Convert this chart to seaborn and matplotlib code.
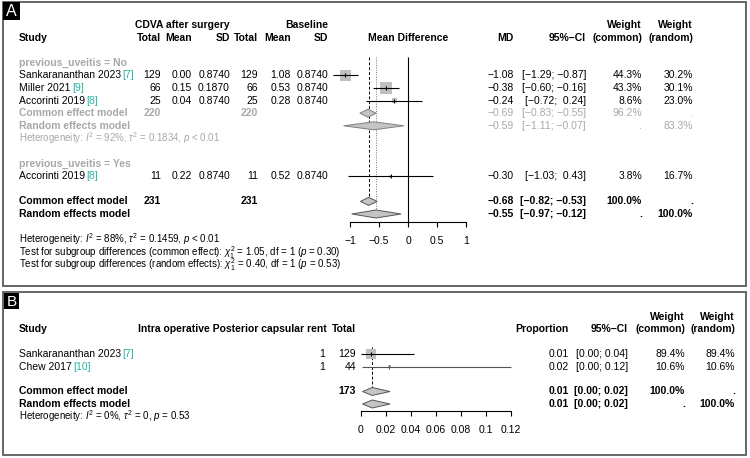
import matplotlib
matplotlib.use("Agg")
import numpy as np
import matplotlib.pyplot as plt
from matplotlib.patches import Rectangle
import seaborn as sns

# ------------------------------------------------------------------
#  Data
# ------------------------------------------------------------------
# Panel A - CDVA after surgery vs baseline, by previous uveitis
a_studies    = ["Sankarananthan 2023", "Miller 2021", "Accorinti 2019", "Accorinti 2019"]
a_refs       = ["[7]", "[9]", "[8]", "[8]"]
a_group      = ["No", "No", "No", "Yes"]
a_n_post     = [129, 66, 25, 11]
a_mean_post  = [0.00, 0.15, 0.04, 0.22]
a_sd_post    = [0.8740, 0.1870, 0.8740, 0.8740]
a_n_base     = [129, 66, 25, 11]
a_mean_base  = [1.08, 0.53, 0.28, 0.52]
a_sd_base    = [0.8740, 0.8740, 0.8740, 0.8740]
a_md         = [-1.08, -0.38, -0.24, -0.30]
a_lo         = [-1.29, -0.60, -0.72, -1.03]
a_hi         = [-0.87, -0.16, 0.24, 0.43]
a_w_common   = [44.3, 43.3, 8.6, 3.8]
a_w_random   = [30.2, 30.1, 23.0, 16.7]

# subgroup "No" pooled estimates (common, random)
a_sub_total  = 220
a_sub_est    = [-0.69, -0.59]
a_sub_lo     = [-0.83, -1.11]
a_sub_hi     = [-0.55, -0.07]
a_sub_wc     = [96.2, None]
a_sub_wr     = [None, 83.3]

# overall pooled estimates (common, random)
a_all_total  = 231
a_all_est    = [-0.68, -0.55]
a_all_lo     = [-0.82, -0.97]
a_all_hi     = [-0.53, -0.12]
a_all_wc     = [100.0, None]
a_all_wr     = [None, 100.0]

a_ticks      = [-1, -0.5, 0, 0.5, 1]
a_tick_lbls  = ["\u22121", "\u22120.5", "0", "0.5", "1"]

# Panel B - intra operative posterior capsular rent
b_studies    = ["Sankarananthan 2023", "Chew 2017"]
b_refs       = ["[7]", "[10]"]
b_events     = [1, 1]
b_total      = [129, 44]
b_prop       = [0.0078, 0.0227]
b_lo         = [0.0002, 0.0006]
b_hi         = [0.0424, 0.1202]
b_w_common   = [89.4, 10.6]
b_w_random   = [89.4, 10.6]

b_all_total  = 173
b_all_est    = [0.009, 0.009]
b_all_lo     = [0.0012, 0.0012]
b_all_hi     = [0.0232, 0.0232]
b_all_wc     = [100.0, None]
b_all_wr     = [None, 100.0]

b_ticks      = [0, 0.02, 0.04, 0.06, 0.08, 0.1, 0.12]
b_tick_lbls  = ["0", "0.02", "0.04", "0.06", "0.08", "0.1", "0.12"]

model_names  = ["Common effect model", "Random effects model"]

# ------------------------------------------------------------------
#  Style
# ------------------------------------------------------------------
sns.set_theme(style="white")
plt.rcParams["font.family"] = ["Liberation Sans", "DejaVu Sans"]
plt.rcParams["mathtext.fontset"] = "custom"
plt.rcParams["mathtext.rm"] = "Liberation Sans"
plt.rcParams["mathtext.it"] = "Liberation Sans:italic"
plt.rcParams["mathtext.bf"] = "Liberation Sans:bold"

FS = 7.5
FS_SMALL = 7.0
GRAY = "#A8A8A8"
TEAL = "#2BB3A5"
SQ_COLOR = "#C0C0C0"
DIA_FILL = "#C4C4C4"
DIA_EDGE = "#555555"
DH = 4.0  # diamond half height (px)

W, H = 750, 458
fig = plt.figure(figsize=(W / 100, H / 100), dpi=100)

bg = fig.add_axes([0, 0, 1, 1])
bg.set_xlim(0, W)
bg.set_ylim(H, 0)
bg.axis("off")


def px_axes(x0, x1, y0, y1):
    ax = fig.add_axes([x0 / W, 1 - y1 / H, (x1 - x0) / W, (y1 - y0) / H])
    ax.patch.set_alpha(0)
    return ax


def fmt2(v):
    return f"{v:.2f}".replace("-", "\u2212")


def fmt_ci(lo, hi, pad=False):
    s_hi = fmt2(hi)
    if pad and hi >= 0:
        s_hi = " " + s_hi
    return f"[{fmt2(lo)}; {s_hi}]"


def fmt_w(w):
    return "." if w is None else f"{w:.1f}%"


def txt(x, y, s, ha="right", color="black", bold=False, size=FS):
    bg.text(x, y, s, ha=ha, va="center", fontsize=size, color=color,
            fontweight="bold" if bold else "normal")


def study_label(x, y, name, ref):
    t = bg.text(x, y, name, ha="left", va="center", fontsize=FS, color="black")
    bg.annotate(ref, xy=(1, 0.5), xycoords=t, xytext=(1, 0),
                textcoords="offset points", ha="left", va="center",
                fontsize=FS, color=TEAL)


def diamond(ax, y, est, lo, hi, edge=DIA_EDGE):
    ax.fill([lo, est, hi, est], [y, y - DH, y, y + DH],
            facecolor=DIA_FILL, edgecolor=edge, lw=0.7, zorder=3)


def style_axis(ax, ticks, labels):
    for side in ["top", "left", "right"]:
        ax.spines[side].set_visible(False)
    ax.spines["bottom"].set_bounds(ticks[0], ticks[-1])
    ax.spines["bottom"].set_color("black")
    ax.spines["bottom"].set_linewidth(0.8)
    ax.set_xticks(ticks)
    ax.set_xticklabels(labels)
    ax.set_yticks([])
    ax.tick_params(axis="x", direction="out", length=3.6, width=0.8,
                   colors="black", labelsize=FS, pad=6.5, bottom=True)
    ax.grid(False)


def squares(ax, x, y, w, side_px):
    w = np.asarray(w, dtype=float)
    smax = (side_px * 0.72) ** 2
    sns.scatterplot(x=x, y=y, size=w, sizes=(smax * w.min() / w.max(), smax),
                    size_norm=(w.min(), w.max()), marker="s", color=SQ_COLOR,
                    linewidth=0, legend=False, ax=ax, zorder=2)


def ci_lines(ax, y, est, lo, hi, color="black"):
    ax.hlines(y, lo, hi, color=color, lw=0.8, zorder=4)
    ax.plot(est, y, ls="none", marker="|", ms=3, mew=0.8, color=color, zorder=5)


# ------------------------------------------------------------------
#  Frames and panel letters
# ------------------------------------------------------------------
bg.add_patch(Rectangle((3, 2), 743, 284, fill=False, ec="#5A5A5A", lw=1.3))
bg.add_patch(Rectangle((3, 292), 743, 163, fill=False, ec="#5A5A5A", lw=1.3))
bg.add_patch(Rectangle((3, 2), 17, 18, fc="black", ec="none"))
bg.add_patch(Rectangle((4, 293), 15, 16, fc="black", ec="none"))
bg.text(11.5, 11.5, "A", color="white", fontsize=11.5, ha="center", va="center")
bg.text(11.5, 301.5, "B", color="white", fontsize=11, ha="center", va="center")

# ------------------------------------------------------------------
#  Panel A
# ------------------------------------------------------------------
def YA(k):
    return 25 + 12.6 * k

CA = dict(study=19, n_post=161, m_post=192, sd_post=230, n_base=258,
          m_base=291, sd_base=328, plot=408, md=514, ci=586, wc=642, wr=693)

txt(CA["sd_post"], YA(0), "CDVA after surgery", bold=True)
txt(CA["sd_base"], YA(0), "Baseline", bold=True)
txt(CA["wc"], YA(0), "Weight", bold=True)
txt(CA["wr"], YA(0), "Weight", bold=True)
txt(CA["study"], YA(1), "Study", ha="left", bold=True)
for key, lab in [("n_post", "Total"), ("m_post", "Mean"), ("sd_post", "SD"),
                 ("n_base", "Total"), ("m_base", "Mean"), ("sd_base", "SD"),
                 ("md", "MD"), ("ci", "95%\u2212CI"), ("wc", "(common)"),
                 ("wr", "(random)")]:
    txt(CA[key], YA(1), lab, bold=True)
txt(CA["plot"], YA(1), "Mean Difference", ha="center", bold=True)

txt(CA["study"], YA(3), "previous_uveitis = No", ha="left", color=GRAY, bold=True)
txt(CA["study"], YA(11), "previous_uveitis = Yes", ha="left", color=GRAY, bold=True)

a_rows = [YA(4), YA(5), YA(6), YA(12)]
for i, y in enumerate(a_rows):
    study_label(CA["study"], y, a_studies[i], a_refs[i])
    txt(CA["n_post"], y, str(a_n_post[i]))
    txt(CA["m_post"], y, fmt2(a_mean_post[i]))
    txt(CA["sd_post"], y, f"{a_sd_post[i]:.4f}")
    txt(CA["n_base"], y, str(a_n_base[i]))
    txt(CA["m_base"], y, fmt2(a_mean_base[i]))
    txt(CA["sd_base"], y, f"{a_sd_base[i]:.4f}")
    txt(CA["md"], y, fmt2(a_md[i]))
    txt(CA["ci"], y, fmt_ci(a_lo[i], a_hi[i], pad=True))
    txt(CA["wc"], y, fmt_w(a_w_common[i]))
    txt(CA["wr"], y, fmt_w(a_w_random[i]))

# subgroup pooled rows (grey)
a_sub_rows = [YA(7), YA(8)]
for j, y in enumerate(a_sub_rows):
    txt(CA["study"], y, model_names[j], ha="left", color=GRAY, bold=True)
    txt(CA["md"], y, fmt2(a_sub_est[j]), color=GRAY)
    txt(CA["ci"], y, fmt_ci(a_sub_lo[j], a_sub_hi[j]), color=GRAY)
    txt(CA["wc"], y, fmt_w(a_sub_wc[j]), color=GRAY)
    txt(CA["wr"], y, fmt_w(a_sub_wr[j]), color=GRAY)
txt(CA["n_post"], a_sub_rows[0], str(a_sub_total), color=GRAY, bold=True)
txt(CA["n_base"], a_sub_rows[0], str(a_sub_total), color=GRAY, bold=True)
txt(CA["study"], YA(9), r"Heterogeneity: $I^2$ = 92%, $\tau^2$ = 0.1834, $p$ < 0.01",
    ha="left", color=GRAY, size=FS_SMALL)

# overall pooled rows
a_all_rows = [YA(14), YA(15)]
for j, y in enumerate(a_all_rows):
    txt(CA["study"], y, model_names[j], ha="left", bold=True)
    txt(CA["md"], y, fmt2(a_all_est[j]), bold=True)
    txt(CA["ci"], y, fmt_ci(a_all_lo[j], a_all_hi[j]), bold=True)
    txt(CA["wc"], y, fmt_w(a_all_wc[j]), bold=True)
    txt(CA["wr"], y, fmt_w(a_all_wr[j]), bold=True)
txt(CA["n_post"], a_all_rows[0], str(a_all_total), bold=True)
txt(CA["n_base"], a_all_rows[0], str(a_all_total), bold=True)

txt(CA["study"], 239.5, r"Heterogeneity: $I^2$ = 88%, $\tau^2$ = 0.1459, $p$ < 0.01",
    ha="left", size=FS_SMALL)
txt(CA["study"], 252.5, r"Test for subgroup differences (common effect): $\chi^2_1$ = 1.05, df = 1 ($p$ = 0.30)",
    ha="left", size=FS_SMALL)
txt(CA["study"], 265, r"Test for subgroup differences (random effects): $\chi^2_1$ = 0.40, df = 1 ($p$ = 0.53)",
    ha="left", size=FS_SMALL)

# forest graphics A
A_X0, A_X1, A_TOP, A_AXIS = 330, 500, 50, 222
A_SCALE = 58.0
axA = px_axes(A_X0, A_X1, A_TOP, A_AXIS)
axA.set_xlim((A_X0 - CA["plot"]) / A_SCALE, (A_X1 - CA["plot"]) / A_SCALE)
axA.set_ylim(A_AXIS, A_TOP)

axA.vlines(0, 57, A_AXIS, color="black", lw=0.8, zorder=1)
axA.vlines(a_all_est[0], 57, a_all_rows[0] - DH, color="black", lw=0.7,
           linestyles=(0, (3, 2)), zorder=1)
axA.vlines(a_all_est[1], 57, a_all_rows[1] - DH, color="#777777", lw=0.7,
           linestyles=(0, (1, 1.5)), zorder=1)

squares(axA, a_md, a_rows, a_w_common, side_px=11.5)
ci_lines(axA, a_rows, a_md, a_lo, a_hi)
for j, y in enumerate(a_sub_rows):
    diamond(axA, y, a_sub_est[j], a_sub_lo[j], a_sub_hi[j], edge="#808080")
for j, y in enumerate(a_all_rows):
    diamond(axA, y, a_all_est[j], a_all_lo[j], a_all_hi[j])
style_axis(axA, a_ticks, a_tick_lbls)

# ------------------------------------------------------------------
#  Panel B
# ------------------------------------------------------------------
def YB(k):
    return 316.5 + 12.5 * k

CB = dict(study=19, events=325, total=356, plot=361, prop=569, ci=628, wc=685, wr=735)

txt(CB["wc"], YB(0), "Weight", bold=True)
txt(CB["wr"], YB(0), "Weight", bold=True)
txt(CB["study"], YB(1), "Study", ha="left", bold=True)
for key, lab in [("events", "Intra operative Posterior capsular rent"),
                 ("total", "Total"), ("prop", "Proportion"), ("ci", "95%\u2212CI"),
                 ("wc", "(common)"), ("wr", "(random)")]:
    txt(CB[key] + (2 if key == "events" else 0), YB(1), lab, bold=True)

b_rows = [YB(3), YB(4)]
for i, y in enumerate(b_rows):
    study_label(CB["study"], y, b_studies[i], b_refs[i])
    txt(CB["events"], y, str(b_events[i]))
    txt(CB["total"], y, str(b_total[i]))
    txt(CB["prop"], y, fmt2(b_prop[i]))
    txt(CB["ci"], y, fmt_ci(b_lo[i], b_hi[i]))
    txt(CB["wc"], y, fmt_w(b_w_common[i]))
    txt(CB["wr"], y, fmt_w(b_w_random[i]))

b_all_rows = [YB(6), YB(7)]
for j, y in enumerate(b_all_rows):
    txt(CB["study"], y, model_names[j], ha="left", bold=True)
    txt(CB["prop"], y, fmt2(b_all_est[j]), bold=True)
    txt(CB["ci"], y, fmt_ci(b_all_lo[j], b_all_hi[j]), bold=True)
    txt(CB["wc"], y, fmt_w(b_all_wc[j]), bold=True)
    txt(CB["wr"], y, fmt_w(b_all_wr[j]), bold=True)
txt(CB["total"], b_all_rows[0], str(b_all_total), bold=True)
txt(CB["study"], YB(8), r"Heterogeneity: $I^2$ = 0%, $\tau^2$ = 0, $p$ = 0.53",
    ha="left", size=FS_SMALL)

B_X0, B_X1, B_TOP, B_AXIS = 350, 520, 340, 411
B_SCALE = 1250.0
axB = px_axes(B_X0, B_X1, B_TOP, B_AXIS)
axB.set_xlim((B_X0 - CB["plot"]) / B_SCALE, (B_X1 - CB["plot"]) / B_SCALE)
axB.set_ylim(B_AXIS, B_TOP)

axB.vlines(b_all_est[0], 347, b_all_rows[0] - DH, color="black", lw=0.7,
           linestyles=(0, (3, 2)), zorder=1)
squares(axB, b_prop, b_rows, b_w_common, side_px=10)
ci_lines(axB, b_rows[:1], b_prop[:1], b_lo[:1], b_hi[:1])
ci_lines(axB, b_rows[1:], b_prop[1:], b_lo[1:], b_hi[1:], color="#555555")
for j, y in enumerate(b_all_rows):
    diamond(axB, y, b_all_est[j], b_all_lo[j], b_all_hi[j])
style_axis(axB, b_ticks, b_tick_lbls)

fig.savefig("out.png", dpi=100)
